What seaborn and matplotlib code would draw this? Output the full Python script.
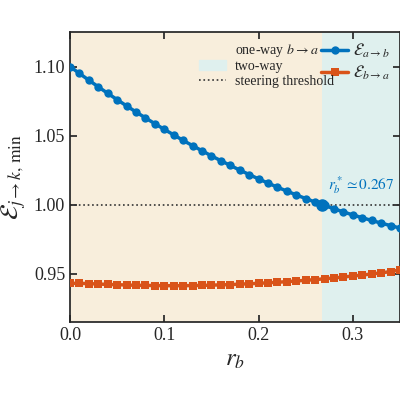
import matplotlib
matplotlib.use("Agg")
import matplotlib.pyplot as plt
import seaborn as sns
import pandas as pd
from matplotlib.patches import Patch
from matplotlib.lines import Line2D

sns.set_theme(style="ticks")
plt.rcParams['font.family'] = ['Liberation Serif', 'DejaVu Serif']
plt.rcParams['mathtext.fontset'] = 'stix'

r_b = [i / 100 for i in range(36)]
E_ab = [1.1000, 1.0950, 1.0901, 1.0853, 1.0806, 1.0760, 1.0715, 1.0671, 1.0628, 1.0586,
        1.0545, 1.0505, 1.0465, 1.0427, 1.0390, 1.0353, 1.0318, 1.0284, 1.0250, 1.0218,
        1.0186, 1.0156, 1.0126, 1.0098, 1.0070, 1.0044, 1.0018, 0.9994, 0.9970, 0.9947,
        0.9925, 0.9905, 0.9885, 0.9866, 0.9848, 0.9830]
E_ba = [0.9430, 0.9430, 0.9428, 0.9425, 0.9422, 0.9420, 0.9418, 0.9416, 0.9415, 0.9414,
        0.9413, 0.9413, 0.9413, 0.9414, 0.9415, 0.9417, 0.9419, 0.9421, 0.9424, 0.9427,
        0.9430, 0.9434, 0.9438, 0.9442, 0.9447, 0.9452, 0.9457, 0.9463, 0.9469, 0.9476,
        0.9483, 0.9490, 0.9498, 0.9506, 0.9515, 0.9528]
r_star = 0.267
threshold = 1.0
blue, orange = '#0072BD', '#D95319'

df = pd.DataFrame({'r': r_b, 'ab': E_ab, 'ba': E_ba})

fig = plt.figure(figsize=(4, 4), dpi=100)
ax = fig.add_axes([0.175, 0.195, 0.825, 0.725])
ax.axvspan(0, r_star, color='#F8EEDC', lw=0, zorder=0)
ax.axvspan(r_star, 0.35, color='#DFF0EE', lw=0, zorder=0)
ax.axhline(threshold, color='#333333', ls=':', lw=1.2, zorder=1)
sns.lineplot(data=df, x='r', y='ab', ax=ax, color=blue, marker='o', markersize=6,
             markeredgewidth=0, lw=2.5, label=r'$\mathcal{E}_{a\to b}$', zorder=3)
sns.lineplot(data=df, x='r', y='ba', ax=ax, color=orange, marker='s', markersize=6,
             markeredgewidth=0, lw=2.5, label=r'$\mathcal{E}_{b\to a}$', zorder=3)
ax.plot([r_star], [threshold], 'o', color=blue, ms=8, zorder=4)
ax.text(0.3085, 1.006, r'$r_b^*\simeq 0.267$', color=blue, fontsize=11, ha='center', va='bottom')

ax.set_xlim(0, 0.35)
ax.set_ylim(0.915, 1.125)
ax.set_xticks([0, 0.1, 0.2, 0.3])
ax.set_yticks([0.95, 1.0, 1.05, 1.10])
ax.set_yticklabels(['0.95', '1.00', '1.05', '1.10'])
ax.set_xticklabels(['0.0', '0.1', '0.2', '0.3'])
ax.tick_params(direction='in', top=True, right=True, labelsize=13, length=5)
ax.set_xlabel(r'$r_b$', fontsize=18)
ax.set_ylabel(r'$\mathcal{E}_{j\to k,\,\min}$', fontsize=18)

leg1 = ax.legend(loc='upper right', frameon=False, fontsize=12, handlelength=1.6,
                 borderaxespad=0.2, labelspacing=0.2, handletextpad=0.3)
ax.add_artist(leg1)
handles = [Patch(color='#F8EEDC', label=r'one-way $b\to a$'),
           Patch(color='#DFF0EE', label='two-way'),
           Line2D([], [], color='#333333', ls=':', lw=1.2, label='steering threshold')]
ax.legend(handles=handles, loc='upper left', bbox_to_anchor=(0.36, 1.0), frameon=False,
          fontsize=10, handlelength=2, labelspacing=0.1, borderaxespad=0.3, handletextpad=0.6)
fig.savefig('out.png', dpi=100)
